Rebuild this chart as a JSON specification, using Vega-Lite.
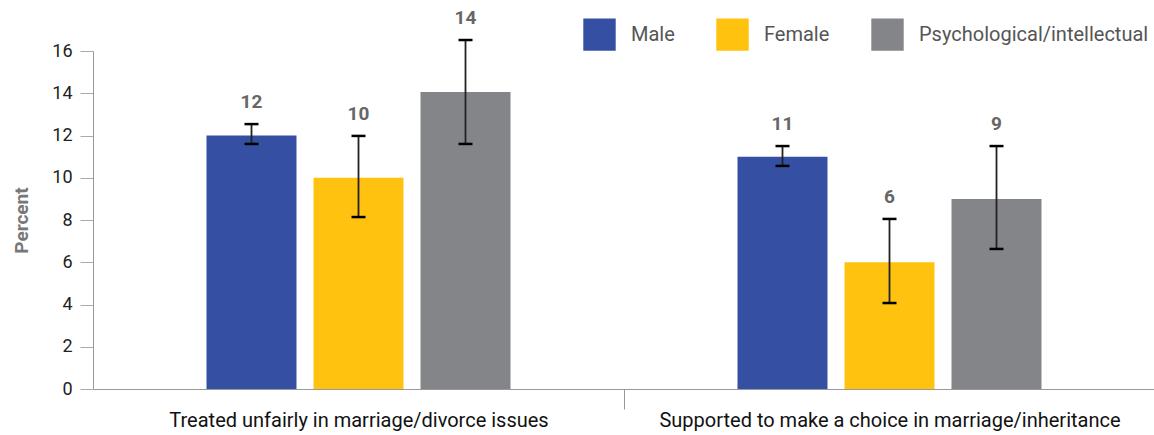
{
  "$schema": "https://vega.github.io/schema/vega-lite/v6.json",
  "width": 1062,
  "height": 338,
  "autosize": {"type": "none"},
  "padding": {"left": 93, "top": 51, "right": 0, "bottom": 46},
  "background": "white",
  "config": {"view": {"stroke": null}, "font": "Roboto"},
  "data": {
    "values": [
      {"category": "Treated unfairly in marriage/divorce issues", "group": "Male", "value": 12, "lo": 11.6, "hi": 12.54},
      {"category": "Treated unfairly in marriage/divorce issues", "group": "Female", "value": 10, "lo": 8.14, "hi": 11.98},
      {"category": "Treated unfairly in marriage/divorce issues", "group": "Psychological/intellectual", "value": 14.06, "lo": 11.6, "hi": 16.52},
      {"category": "Supported to make a choice in marriage/inheritance", "group": "Male", "value": 11, "lo": 10.56, "hi": 11.5},
      {"category": "Supported to make a choice in marriage/inheritance", "group": "Female", "value": 6, "lo": 4.07, "hi": 8.05},
      {"category": "Supported to make a choice in marriage/inheritance", "group": "Psychological/intellectual", "value": 8.99, "lo": 6.63, "hi": 11.5}
    ]
  },
  "encoding": {
    "x": {
      "field": "category",
      "type": "nominal",
      "sort": ["Treated unfairly in marriage/divorce issues", "Supported to make a choice in marriage/inheritance"],
      "scale": {"paddingInner": 0, "paddingOuter": 0},
      "axis": {
        "title": null,
        "labelAngle": 0,
        "labelLimit": 0,
        "domainColor": "#999999",
        "tickBand": "extent",
        "tickSize": 20,
        "tickColor": {"condition": {"test": "datum.value !== 'Treated unfairly in marriage/divorce issues'", "value": "transparent"}, "value": "#999999"},
        "labelFontSize": 20,
        "labelColor": "#111111",
        "labelPadding": 1
      }
    },
    "xOffset": {
      "field": "group",
      "type": "nominal",
      "sort": ["Male", "Female", "Psychological/intellectual"],
      "scale": {"paddingInner": 0.159, "paddingOuter": 1, "range": [6.5, 524.5]}
    }
  },
  "layer": [
    {
      "mark": {"type": "bar"},
      "encoding": {
        "y": {
          "field": "value",
          "type": "quantitative",
          "scale": {"domain": [0, 16]},
          "axis": {
            "values": [0, 2, 4, 6, 8, 10, 12, 14, 16],
            "grid": false,
            "tickSize": 13,
            "tickColor": "#aaaaaa",
            "domainColor": "#999999",
            "labelFontSize": 18,
            "labelColor": "#222222",
            "labelPadding": 8,
            "title": "Percent",
            "titleFontSize": 19,
            "titleFontWeight": "bold",
            "titleColor": "#777777",
            "titlePadding": 20
          }
        },
        "color": {
          "field": "group",
          "type": "nominal",
          "sort": ["Male", "Female", "Psychological/intellectual"],
          "scale": {"domain": ["Male", "Female", "Psychological/intellectual"], "range": ["#3550A3", "#FFC20E", "#848589"]},
          "legend": {
            "title": null,
            "orient": "none",
            "legendX": 490,
            "legendY": -33,
            "direction": "horizontal",
            "symbolType": "square",
            "symbolSize": 1050,
            "symbolStrokeWidth": 0,
            "symbolOpacity": 1,
            "labelFontSize": 20,
            "labelLimit": 0,
            "labelColor": "#555555",
            "labelOffset": 15,
            "columnPadding": 41
          }
        }
      }
    },
    {
      "mark": {"type": "rule", "color": "#222222", "strokeWidth": 1.8},
      "encoding": {
        "y": {"field": "lo", "type": "quantitative"},
        "y2": {"field": "hi"}
      }
    },
    {
      "mark": {"type": "tick", "color": "#000000", "size": 14, "thickness": 2.5, "opacity": 1},
      "encoding": {"y": {"field": "lo", "type": "quantitative"}}
    },
    {
      "mark": {"type": "tick", "color": "#000000", "size": 14, "thickness": 2.5, "opacity": 1},
      "encoding": {"y": {"field": "hi", "type": "quantitative"}}
    },
    {
      "mark": {"type": "text", "dy": -22, "baseline": "middle", "fontSize": 19, "fontWeight": "bold", "color": "#666666"},
      "encoding": {
        "y": {"field": "hi", "type": "quantitative"},
        "text": {"field": "value", "type": "quantitative", "format": ".0f"}
      }
    }
  ]
}
